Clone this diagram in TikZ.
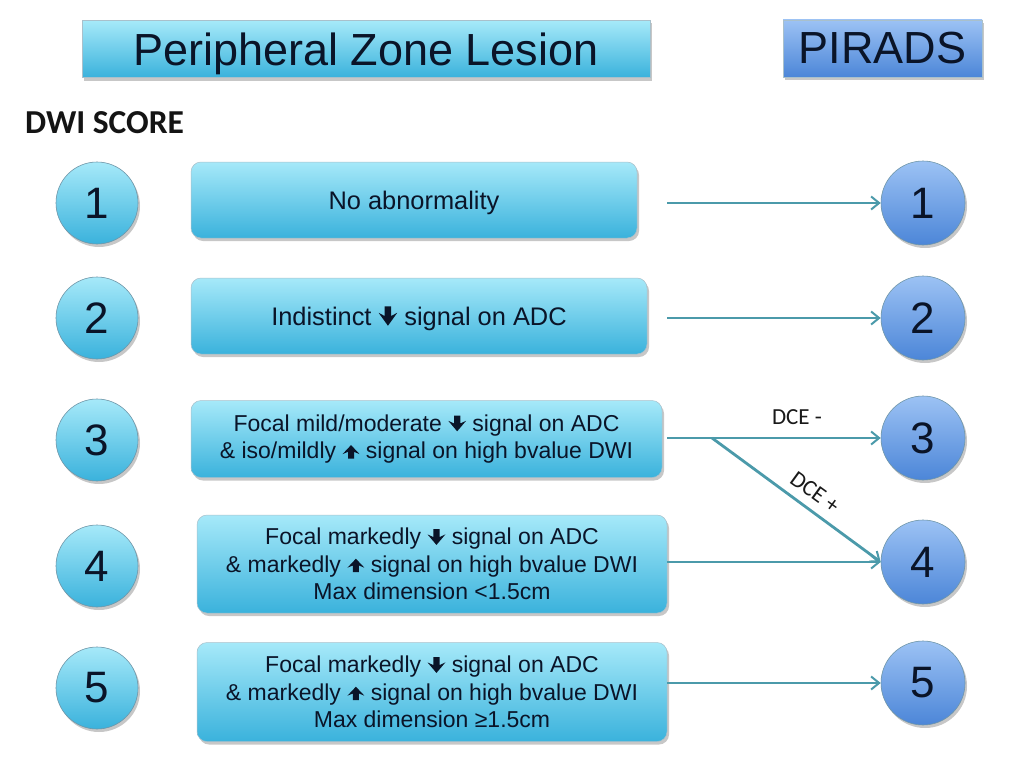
\documentclass[tikz,border=0pt]{standalone}
\usepackage{fontspec}
\setmainfont{Liberation Sans}
\newfontfamily\calib{Carlito}
\usetikzlibrary{shadows,arrows.meta}

\definecolor{txt}{HTML}{0A1428}
\definecolor{cyanT}{HTML}{A6E9F9}
\definecolor{cyanB}{HTML}{3AB2DC}
\definecolor{blueT}{HTML}{9CC2F4}
\definecolor{blueB}{HTML}{4C86D8}
\definecolor{link}{HTML}{4B9AAA}
\definecolor{rim}{HTML}{6F96A8}

\newcommand{\dnar}[2]{\tikz[baseline=0pt, sharp corners, xscale=#1, yscale=#2]\fill[txt, sharp corners] (-3pt,15pt) -- (3pt,15pt) -- (3pt,7.5pt) -- (8.5pt,10pt) -- (0pt,0pt) -- (-8.5pt,10pt) -- (-3pt,7.5pt) -- cycle;}
\newcommand{\upar}[2]{\tikz[baseline=0pt, sharp corners, xscale=#1, yscale=#2]\fill[txt, sharp corners] (-3pt,0pt) -- (3pt,0pt) -- (3pt,7.5pt) -- (8.5pt,5pt) -- (0pt,15pt) -- (-8.5pt,5pt) -- (-3pt,7.5pt) -- cycle;}

\tikzset{
  shad/.style={drop shadow={shadow xshift=2pt, shadow yshift=-3pt, opacity=0.22, fill=black}},
  headc/.style={shad, draw=rim!60, line width=0.5pt, top color=cyanT, bottom color=cyanB,
    minimum height=57, inner sep=0pt, text=txt, font=\fontsize{45}{50}\selectfont},
  headb/.style={shad, draw=rim!60, line width=0.5pt, top color=blueT, bottom color=blueB,
    minimum height=57, inner sep=0pt, text=txt, font=\fontsize{45}{50}\selectfont},
  crit/.style={shad, draw=rim!60, line width=0.5pt, rounded corners=10pt, top color=cyanT, bottom color=cyanB,
    inner sep=0pt, text=txt, align=center},
  one/.style={font=\fontsize{25.4}{29}\selectfont, text depth=0pt},
  multi/.style={font=\fontsize{23}{27.3}\selectfont},
  lcirc/.style={shad, circle, draw=rim, line width=0.6pt, top color=cyanT, bottom color=cyanB,
    minimum size=82, inner sep=0pt, text=txt, font=\fontsize{44}{48}\selectfont},
  rcirc/.style={shad, circle, draw=rim, line width=0.6pt, top color=blueT, bottom color=blueB,
    minimum size=84, inner sep=0pt, text=txt, font=\fontsize{44}{48}\selectfont},
  conn/.style={draw=link, line width=2.8pt, -{Straight Barb[length=8pt,width=13pt,line width=2pt]}},
  dce/.style={font=\calib\fontsize{23}{27}\selectfont, text=black!90, inner sep=1pt},
}

\begin{document}
\begin{tikzpicture}[x=1pt,y=-1pt]
\useasboundingbox[fill=white] (0,0) rectangle (1024,768);

% headers
\node[headc, minimum width=568, text depth=0pt] (title) at (366,49) {Peripheral Zone Lesion};
\node[headb, minimum width=199] (pirads) at (882.5,48.5) {PIRADS};
\node[anchor=base west, inner sep=0pt, font=\calib\bfseries\fontsize{33.5}{36}\selectfont, text=black!92] (dwi) at (25,133) {DWI SCORE};

% left circles
\node[lcirc] (l1) at (97,203) {1};
\node[lcirc] (l2) at (97,318) {2};
\node[lcirc] (l3) at (97,440) {3};
\node[lcirc] (l4) at (97,566) {4};
\node[lcirc] (l5) at (97,688) {5};

% criteria boxes
\node[crit, one, minimum width=446, minimum height=76] (b1) at (414,200) {No abnormality};
\node[crit, one, minimum width=456, minimum height=76] (b2) at (419,316) {Indistinct \dnar{1.1}{1.3} signal on ADC};
\node[crit, multi, minimum width=471, minimum height=77] (b3) at (426.5,439)
  {Focal mild/moderate \dnar{1.05}{1.05} signal on ADC\\ \& iso/mildly \upar{1}{0.9} signal on high bvalue DWI};
\node[crit, multi, minimum width=470, minimum height=98] (b4) at (432,564)
  {Focal markedly \dnar{1.05}{1.05} signal on ADC\\ \& markedly \upar{1}{0.9} signal on high bvalue DWI\\ Max dimension {<}1.5cm};
\node[crit, multi, minimum width=470, minimum height=99] (b5) at (432,692)
  {Focal markedly \dnar{1.05}{1.05} signal on ADC\\ \& markedly \upar{1}{0.9} signal on high bvalue DWI\\ Max dimension ≥1.5cm};

% right circles
\node[rcirc] (r1) at (923,203) {1};
\node[rcirc] (r2) at (923,318) {2};
\node[rcirc] (r3) at (923,438) {3};
\node[rcirc] (r4) at (923,562) {4};
\node[rcirc] (r5) at (923,683) {5};

% connector start points
\coordinate (s1) at (667,203);
\coordinate (s2) at (667,318);
\coordinate (s3) at (667,438);
\coordinate (d3) at (712,438);
\coordinate (s4) at (667,562);
\coordinate (s5) at (667,683);

\draw[conn] (s1) -- (r1.west);
\draw[conn] (s2) -- (r2.west);
\draw[conn] (s3) -- (r3.west);
\draw[conn] (d3) -- (r4.west);
\draw[conn] (s4) -- (r4.west);
\draw[conn] (s5) -- (r5.west);

\node[dce] (dm) at (797,417) {DCE -};
\node[dce, rotate=-36] (dp) at (815,492) {DCE +};
\end{tikzpicture}
\end{document}
